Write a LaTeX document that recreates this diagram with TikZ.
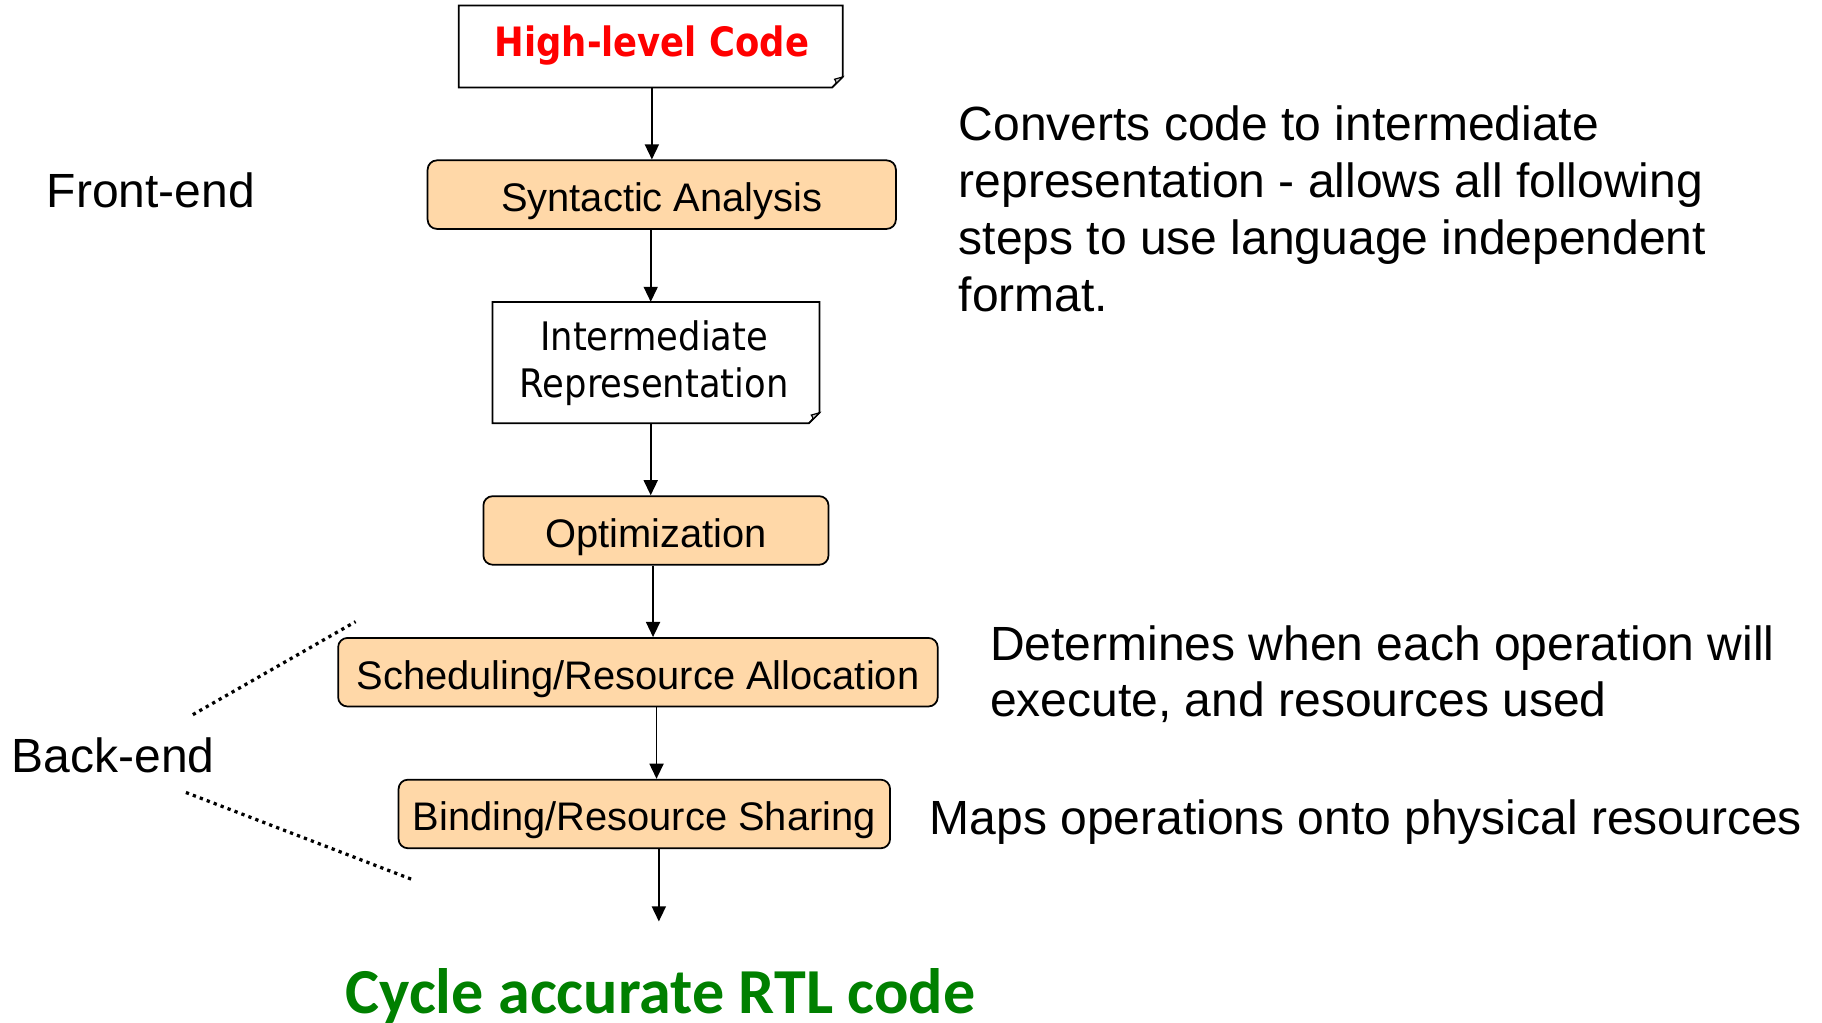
\documentclass[tikz,border=0pt]{standalone}
\usepackage{fontspec}
\setmainfont{Liberation Sans}
\newfontfamily\tahomafont[FakeStretch=0.875]{DejaVu Sans}
\newfontfamily\tahomawide[FakeStretch=0.9]{DejaVu Sans}
\newfontfamily\calibrifont{Carlito}
\usetikzlibrary{arrows.meta,calc}
\definecolor{peach}{HTML}{FFD8A8}
\definecolor{codered}{HTML}{FF0000}
\definecolor{rtlgreen}{HTML}{008000}
\definecolor{foldgray}{HTML}{C8C8C8}

\tikzset{
  stage/.style={draw=black, line width=1.5pt, fill=peach, rounded corners=8pt,
    inner sep=0pt, text height=35pt, text depth=6pt,
    font=\fontsize{34.3}{40}\selectfont},
  docbox/.style={inner sep=0pt, align=center},
  flow/.style={line width=1.6pt, -{Triangle[width=12pt,length=13pt]}},
  brace/.style={line width=2.8pt, dash pattern=on 2.8pt off 3.6pt},
  note/.style={inner sep=0pt, anchor=base west, align=left,
    font=\fontsize{41.3}{49}\selectfont},
}

% outline of a document box with a folded bottom-right corner
\newcommand{\docoutline}[1]{%
  \draw[line width=1.5pt, fill=white]
    (#1.north west) -- (#1.north east) -- ([yshift=9pt]#1.south east)
    -- ([xshift=-9pt]#1.south east) -- (#1.south west) -- cycle;
  \draw[line width=1pt, fill=foldgray]
    ([yshift=9pt]#1.south east) -- ([xshift=-9pt]#1.south east)
    .. controls ([xshift=-5pt,yshift=4pt]#1.south east) .. ([xshift=-7pt,yshift=7pt]#1.south east)
    -- cycle;
}

\begin{document}
\begin{tikzpicture}[x=1pt,y=-1pt]
\useasboundingbox (0,0) rectangle (1568,880);

% document-style boxes
\node[docbox, minimum width=330pt, minimum height=70pt] (hl) at (560,40) {};
\docoutline{hl}
\node[inner sep=0pt, text=codered, font=\tahomafont\bfseries\fontsize{34.8}{40}\selectfont]
  (hltext) at (561,39.5) {High-level Code};

\node[docbox, minimum width=281pt, minimum height=104pt] (ir) at (564.5,312) {};
\docoutline{ir}
\node[inner sep=0pt, align=center, font=\tahomawide\fontsize{33.8}{40}\selectfont,
  anchor=base] (irtext) at (563,342) {Intermediate\\Representation};

% processing stages
\node[stage, minimum width=403pt, minimum height=59pt] (syn) at (569.5,167.5) {Syntactic Analysis};
\node[stage, minimum width=297pt, minimum height=59pt] (opt) at (564.5,456.5) {Optimization};
\node[stage, minimum width=516pt, minimum height=59pt] (sched) at (549,578.5) {Scheduling/Resource Allocation};
\node[stage, minimum width=423pt, minimum height=59pt] (bind) at (554.5,700.5) {Binding/Resource Sharing};

% final output
\node[inner sep=0pt, anchor=base, text=rtlgreen, font=\calibrifont\bfseries\fontsize{55.2}{60}\selectfont]
  (rtl) at (568.5,872) {Cycle accurate RTL code};
\coordinate (rtlin) at (567,793);

% flow arrows
\draw[flow] ([xshift=1pt]hl.south) -- ([xshift=1pt]hl.south |- syn.north);
\draw[flow] ([xshift=-4.5pt]ir.north |- syn.south) -- ([xshift=-4.5pt]ir.north);
\draw[flow] ([xshift=-4.5pt]ir.south) -- ([xshift=-4.5pt]ir.south |- opt.north);
\draw[flow] ([xshift=-2.5pt]opt.south) -- ([xshift=-2.5pt]opt.south |- sched.north);
\draw[flow] ([xshift=16pt]sched.south) -- ([xshift=16pt]sched.south |- bind.north);
\draw[flow] (rtlin |- bind.south) -- (rtlin);

% phase labels
\node[note] (front) at (40,179) {Front-end};
\node[note] (back) at (10,665) {Back-end};
\coordinate (bk1a) at (166,615);
\coordinate (bk1b) at (306,535);
\coordinate (bk2a) at (160,682);
\coordinate (bk2b) at (355,757);
\draw[brace] (bk1a) -- (bk1b);
\draw[brace] (bk2a) -- (bk2b);

% explanations (base anchor sits on the last line)
\node[note] (n1) at (825,268) {Converts code to intermediate\\representation - allows all following\\steps to use language independent\\format.};
\node[note] (n2) at (852,617) {Determines when each operation will\\execute, and resources used};
\node[note] (n3) at (800,718) {Maps operations onto physical resources};
\end{tikzpicture}
\end{document}
